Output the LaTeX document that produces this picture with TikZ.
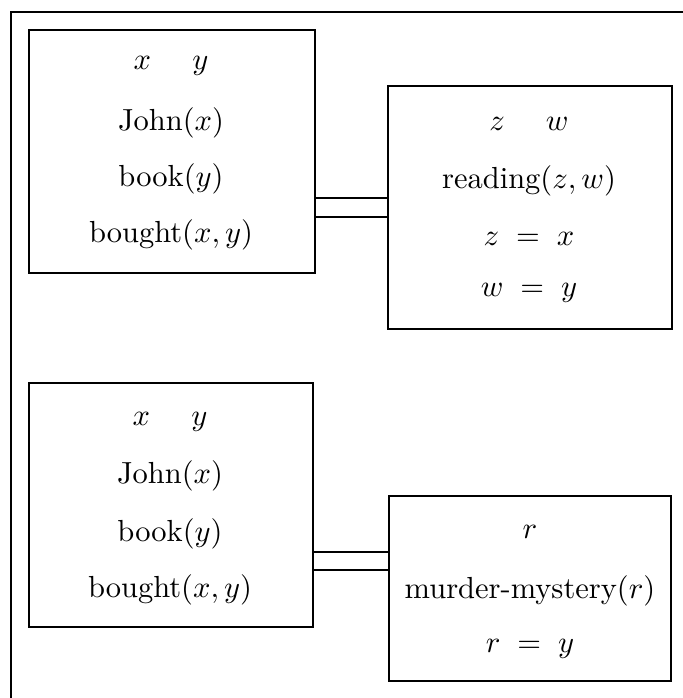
\documentclass[tikz,border=0pt]{standalone}
\begin{document}
\begin{tikzpicture}[x=1pt,y=-1pt,
  box/.style={draw, line width=2.8pt, rectangle, inner sep=0pt},
  txt/.style={anchor=base, inner sep=0pt, scale=3.05},
  link/.style={line width=2.6pt},
  frame/.style={line width=2.8pt}]
\useasboundingbox (0,0) rectangle (682,698);
% outer frame (partial)
\coordinate (f1) at (11,698);
\coordinate (f2) at (11,12);
\coordinate (f3) at (684,12);
\draw[frame] (f1) -- (f2) -- (f3);
% boxes
\node[box, minimum width=286pt, minimum height=243pt] (b1) at (172,151.5) {};
\node[box, minimum width=284pt, minimum height=243pt] (b2) at (530,207.5) {};
\node[box, minimum width=284pt, minimum height=244pt] (b3) at (171,505) {};
\node[box, minimum width=282pt, minimum height=185pt] (b4) at (530,588.5) {};
% box 1 text
\node[txt] (t11) at (171,70) {$x\hspace{1.35em}y$};
\node[txt] (t12) at (171,131) {John$(x)$};
\node[txt] (t13) at (171,186) {book$(y)$};
\node[txt] (t14) at (171,242) {bought$(x,y)$};
% box 2 text
\node[txt] (t21) at (529,131) {$z\hspace{1.35em}w$};
\node[txt] (t22) at (529,188) {reading$(z,w)$};
\node[txt] (t23) at (529,245) {$z\;=\;x$};
\node[txt] (t24) at (529,296) {$w\;=\;y$};
% box 3 text
\node[txt] (t31) at (170,425) {$x\hspace{1.35em}y$};
\node[txt] (t32) at (170,483) {John$(x)$};
\node[txt] (t33) at (170,541) {book$(y)$};
\node[txt] (t34) at (170,597) {bought$(x,y)$};
% box 4 text
\node[txt] (t41) at (530,538) {$r$};
\node[txt] (t42) at (530,598) {murder-mystery$(r)$};
\node[txt] (t43) at (530,652) {$r\;=\;y$};
% double connectors
\coordinate (l1) at (0,198);
\coordinate (l2) at (0,217);
\coordinate (l3) at (0,552);
\coordinate (l4) at (0,570);
\draw[link] (b1.east |- l1) -- (b2.west |- l1);
\draw[link] (b1.east |- l2) -- (b2.west |- l2);
\draw[link] (b3.east |- l3) -- (b4.west |- l3);
\draw[link] (b3.east |- l4) -- (b4.west |- l4);
\end{tikzpicture}
\end{document}
